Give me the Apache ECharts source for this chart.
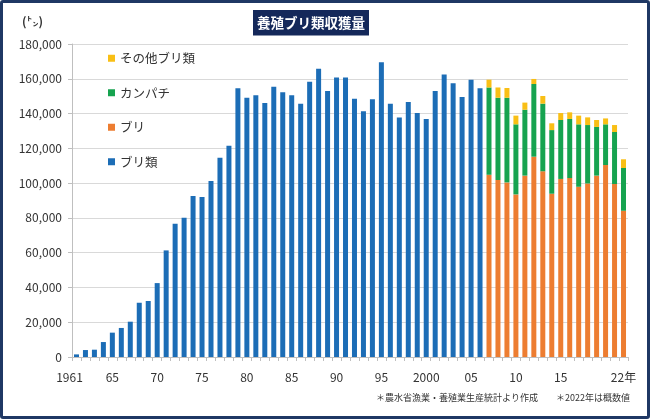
<!DOCTYPE html>
<html><head><meta charset="utf-8">
<script src="https://cdn.jsdelivr.net/npm/echarts@6/dist/echarts.min.js"></script>
<style>html,body{margin:0;padding:0;background:#fff}#c{width:650px;height:419px;box-sizing:border-box;border:3px solid #1f3864;border-radius:3px}</style>
</head><body><div id="c"></div>
<script>
const categories = ['1961','62','63','64','65','66','67','68','69','70','71','72','73','74','75','76','77','78','79','80','81','82','83','84','85','86','87','88','89','90','91','92','93','94','95','96','97','98','99','2000','01','02','03','04','05','06','07','08','09','10','11','12','13','14','15','16','17','18','19','20','21','22'];
const shownLabels = {'1961':'{f|1961}','65':'65','70':'70','75':'75','80':'80','85':'85','90':'90','95':'95','2000':'2000','05':'05','10':'10','15':'15','22':'22年'};
const buriRui = [1500,4000,4200,8600,14000,16700,20300,31200,32200,42500,61300,76700,80100,92600,92000,101200,114600,121500,154500,149100,150500,146000,155400,152200,150500,145600,158300,165800,153000,160800,160800,148500,141300,148200,169500,145700,137800,146600,140300,136900,153000,162500,157500,149500,159500,154500];
const buri = [104800,101800,100400,93500,104300,115200,106800,93900,102400,102900,97900,99800,104300,110400,99500,84100];
const kanpachi = [50200,47300,48700,40300,37900,41800,38900,36600,33900,34000,35900,33600,28000,23400,29900,24600];
const sonota = [4500,5900,5600,5000,4100,2900,4400,3900,4000,3800,5000,4400,4000,3400,4000,5000];
const yTicks = [0,20000,40000,60000,80000,100000,120000,140000,160000,180000];

const pad = (arr, before) => before ? arr.concat(Array(categories.length - arr.length).fill('-')) : Array(categories.length - arr.length).fill('-').concat(arr);

const chart = echarts.init(document.getElementById('c'), null, {renderer:'canvas'});
const font = '"Noto Sans CJK JP", "Noto Sans", sans-serif';
chart.setOption({
  animation:false,
  textStyle:{fontFamily:font},
  title:{text:'養殖ブリ類収獲量', left:250, top:7, backgroundColor:'#14285a', padding:[6,4,6,4],
    textStyle:{color:'#fff', fontSize:13.5, fontWeight:'bold', fontFamily:font}},
  graphic:[
    {type:'text', left:19, top:12, style:{text:'(㌧)', fill:'#333', font:'bold 12px '+font}},
    {type:'text', right:17, top:390, style:{text:'＊農水省漁業・養殖業生産統計より作成　　＊2022年は概数値', fill:'#333', font:'9px '+font}}
  ],
  legend:{orient:'vertical', left:100, top:44, itemGap:22, itemWidth:7, itemHeight:7, icon:'rect',
    textStyle:{fontSize:12.5, color:'#333', fontFamily:font},
    data:['その他ブリ類','カンパチ','ブリ','ブリ類']},
  grid:{left:69, right:19, top:41, bottom:59, containLabel:false},
  xAxis:{type:'category', data:categories,
    axisLine:{lineStyle:{color:'#bfbfbf'}},
    axisTick:{show:true, length:4, lineStyle:{color:'#bfbfbf'}, interval:0},
    axisLabel:{interval:0, margin:14, fontSize:12, color:'#333',
      rich:{f:{fontSize:12, color:'#333', padding:[0,14,0,0]}},
      formatter:(v)=> shownLabels[v] || ''}},
  yAxis:{type:'value', min:0, max:180000, interval:20000,
    axisLine:{show:true, lineStyle:{color:'#bfbfbf'}},
    axisTick:{show:true, length:4, lineStyle:{color:'#bfbfbf'}},
    splitLine:{lineStyle:{color:'#d9d9d9'}},
    axisLabel:{fontSize:12, color:'#333', margin:10, formatter:(v)=> yTicks.includes(v) ? v.toLocaleString('en-US') : ''}},
  series:[
    {name:'ブリ類', type:'bar', stack:'t', barWidth:5, itemStyle:{color:'#1c6db6'}, data:pad(buriRui,true)},
    {name:'ブリ', type:'bar', stack:'t', barWidth:5, itemStyle:{color:'#ed7d31'}, data:pad(buri,false)},
    {name:'カンパチ', type:'bar', stack:'t', barWidth:5, itemStyle:{color:'#16a34f'}, data:pad(kanpachi,false)},
    {name:'その他ブリ類', type:'bar', stack:'t', barWidth:5, itemStyle:{color:'#f9bf15'}, data:pad(sonota,false)}
  ]
});
</script></body></html>
